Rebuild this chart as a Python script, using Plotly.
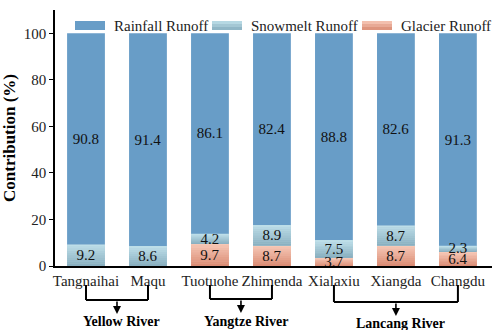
import plotly.graph_objects as go

# Runoff source contributions (%) at each hydrological station
stations = ["Tangnaihai", "Maqu", "Tuotuohe", "Zhimenda", "Xialaxiu", "Xiangda", "Changdu"]
rainfall = [90.8, 91.4, 86.1, 82.4, 88.8, 82.6, 91.3]
snowmelt = [9.2, 8.6, 4.2, 8.9, 7.5, 8.7, 2.3]
glacier = [0.0, 0.0, 9.7, 8.7, 3.7, 8.7, 6.4]

# River basins: (name, first station index, last station index)
basins = [("Yellow River", 0, 1), ("Yangtze River", 2, 3), ("Lancang River", 4, 6)]

# Each component is shaded with a vertical gradient: (bottom colour, top colour)
base_glacier = [0.0] * len(stations)
base_snow = list(glacier)
base_rain = [g + s for g, s in zip(glacier, snowmelt)]
series = [
    ("Glacier Runoff", glacier, base_glacier, ("#d98a72", "#f8cbba"), 10),
    ("Snowmelt Runoff", snowmelt, base_snow, ("#87aebf", "#c0e0ea"), 10),
    ("Rainfall Runoff", rainfall, base_rain, ("#689dc7", "#689dc7"), 1),
]

W, H = 492, 330
L, R, T, B = 55, 0, 10, 64
PW, PH = W - L - R, H - T - B

SERIF = "Liberation Serif"
BAR_W = 0.61


def px(x):
    return (x - L) / PW


def py(y):
    return (H - B - y) / PH


def mix(c0, c1, t):
    a = [int(c0[i:i + 2], 16) for i in (1, 3, 5)]
    b = [int(c1[i:i + 2], 16) for i in (1, 3, 5)]
    return "rgb({},{},{})".format(*[round(p + (q - p) * t) for p, q in zip(a, b)])


fig = go.Figure()
for name, vals, base, (c_bot, c_top), n in series:
    # solid segment underneath, then the gradient bands on top of it
    fig.add_trace(go.Bar(
        x=stations, y=vals, base=base,
        marker=dict(color=mix(c_bot, c_top, 0.5), line=dict(width=0)),
        width=BAR_W, showlegend=False, hoverinfo="skip",
    ))
    if n > 1:
        for k in range(n):
            fig.add_trace(go.Bar(
                x=stations, y=[v / n for v in vals],
                base=[b0 + v * k / n for b0, v in zip(base, vals)],
                marker=dict(color=mix(c_bot, c_top, (k + 0.5) / n), line=dict(width=0)),
                width=BAR_W, showlegend=False, hoverinfo="skip",
            ))

# Value labels centred in each segment
for name, vals, base, _, _ in series:
    fig.add_trace(go.Bar(
        x=stations, y=vals, base=base, name=name,
        marker=dict(color="rgba(0,0,0,0)", line=dict(width=0)),
        width=BAR_W,
        text=[f"{v:.1f}" if v > 0 else "" for v in vals],
        textposition="inside", insidetextanchor="middle",
        constraintext="none",
        textfont=dict(family=SERIF, size=15, color="#111"),
        showlegend=False,
    ))

shapes = []
annotations = []

# Legend drawn across the top of the plot
legend_items = [("Rainfall Runoff", series[2][3], 75), ("Snowmelt Runoff", series[1][3], 212),
                ("Glacier Runoff", series[0][3], 362)]
for label, (c_bot, c_top), x0 in legend_items:
    shapes.append(dict(type="rect", xref="paper", yref="paper",
                       x0=px(x0), x1=px(x0 + 30), y0=py(30), y1=py(21),
                       fillcolor=mix(c_bot, c_top, 0.5), line=dict(width=0), layer="above"))
    for k in range(3):
        shapes.append(dict(type="rect", xref="paper", yref="paper",
                           x0=px(x0), x1=px(x0 + 30),
                           y0=py(30 - 3 * k), y1=py(27 - 3 * k),
                           fillcolor=mix(c_bot, c_top, (k + 0.5) / 3),
                           line=dict(width=0), layer="above"))
    annotations.append(dict(xref="paper", yref="paper", x=px(x0 + 37), y=py(26),
                            text=label, showarrow=False, xanchor="left", yanchor="middle",
                            font=dict(family=SERIF, size=15, color="#222")))

# Basin brackets beneath the station labels
bracket_bottom = {"Yellow River": 300, "Yangtze River": 299, "Lancang River": 302}
label_y = {"Yellow River": 321, "Yangtze River": 321, "Lancang River": 323}
for name, i0, i1 in basins:
    yb = bracket_bottom[name]
    for i in (i0, i1):
        shapes.append(dict(type="line", xref="x", yref="paper", x0=i, x1=i,
                           y0=py(285), y1=py(yb), line=dict(color="black", width=2)))
    shapes.append(dict(type="line", xref="x", yref="paper", x0=i0, x1=i1,
                       y0=py(yb), y1=py(yb), line=dict(color="black", width=2)))
    mid = (i0 + i1) / 2
    annotations.append(dict(xref="x", yref="paper", x=mid, y=py(yb + 14),
                            ax=0, ay=-14, axref="pixel", ayref="pixel",
                            showarrow=True, arrowhead=2, arrowsize=1, arrowwidth=1.6,
                            arrowcolor="black", text=""))
    annotations.append(dict(xref="x", yref="paper", x=mid + 0.08, y=py(label_y[name]),
                            text=f"<b>{name}</b>", showarrow=False,
                            xanchor="center", yanchor="middle",
                            font=dict(family=SERIF, size=14, color="black")))

fig.update_layout(
    width=W, height=H,
    margin=dict(l=L, r=R, t=T, b=B),
    barmode="overlay",
    plot_bgcolor="white", paper_bgcolor="white",
    uniformtext=dict(minsize=15, mode="show"),
    font=dict(family=SERIF, size=15, color="#222"),
    shapes=shapes, annotations=annotations,
    xaxis=dict(
        range=[-0.5, 6.55], showline=True, linecolor="black", linewidth=1.5,
        ticks="", showgrid=False, tickfont=dict(family=SERIF, size=15, color="#222"),
    ),
    yaxis=dict(
        range=[0, 110], tickvals=[0, 20, 40, 60, 80, 100], showline=True,
        linecolor="black", linewidth=1.5, ticks="outside", ticklen=4,
        tickcolor="black", showgrid=False, zeroline=False,
        tickfont=dict(family=SERIF, size=15, color="#222"),
        title=dict(text="<b>Contribution (%)</b>", standoff=6,
                   font=dict(family=SERIF, size=17, color="black")),
    ),
)

fig.write_html("out.html")
